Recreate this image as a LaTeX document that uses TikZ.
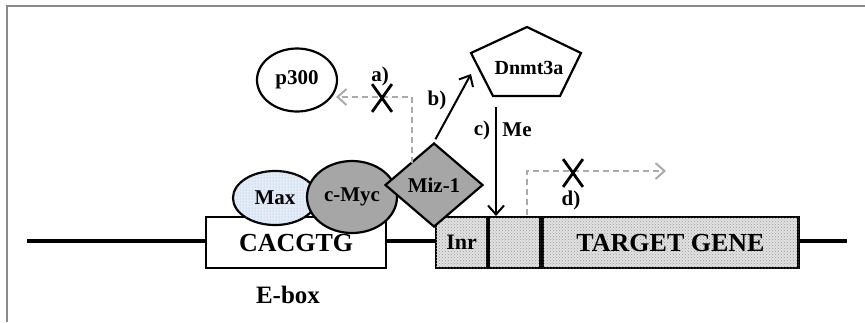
\documentclass[tikz,border=0pt]{standalone}
\usepackage{fontspec}
\setmainfont{Liberation Serif}
\usetikzlibrary{arrows.meta, shapes.geometric, shapes.misc, patterns}
\definecolor{maxblue}{HTML}{E4ECF7}
\definecolor{maxdots}{HTML}{9DB4D6}
\definecolor{protgray}{HTML}{A6A6A6}
\definecolor{genegray}{HTML}{E2E2E2}
\definecolor{genedots}{HTML}{9A9A9A}
\definecolor{blockgray}{HTML}{ABABAB}
\definecolor{framegray}{HTML}{8A8A8A}

\begin{document}
\begin{tikzpicture}[
	x=1pt, y=-1pt,
	>={Straight Barb[length=9pt, width=16pt, line width=2pt]},
	protein/.style={draw=black, line width=2.2pt, inner sep=0pt,
		font=\bfseries\fontsize{21}{23}\selectfont},
	dnabox/.style={draw=black, line width=2.2pt, inner sep=0pt, anchor=north west,
		minimum height=51pt, font=\bfseries\fontsize{26}{28}\selectfont},
	genefill/.style={fill=genegray, postaction={pattern=crosshatch dots, pattern color=genedots}},
	steptag/.style={font=\bfseries\fontsize{21}{23}\selectfont},
	blocked/.style={draw=blockgray, line width=1.8pt, dash pattern=on 6pt off 4pt},
	crossmark/.style={cross out, draw=black, line width=2.8pt,
		minimum width=17pt, minimum height=25pt, inner sep=0pt}
	]
	
	\useasboundingbox (0,0) rectangle (865,322);
	
	% frame edges (top and left only)
	\draw[framegray, line width=1.5pt] (7,322) -- (7,6) -- (865,6);
	
	% ==========================================
	% DNA strand and boxes
	% ==========================================
	\draw[line width=4pt] (27,241) -- (847,241);
	
	\node[dnabox, fill=white, minimum width=180pt] (ebox) at (205,216) {CACGTG};
	\node[font=\bfseries\fontsize{25}{27}\selectfont] (eboxname) at (288,295) {E-box};
	
	\node[dnabox, genefill, minimum width=51pt,
		font=\bfseries\fontsize{22}{24}\selectfont] (inr) at (435,216) {Inr};
	\node[dnabox, genefill, minimum width=51pt] (spacer) at (inr.north east) {};
	\node[dnabox, genefill, minimum width=256pt] (gene) at (spacer.north east) {TARGET GENE};
	
	% ==========================================
	% Protein complex on the E-box
	% ==========================================
	\node[protein, ellipse, fill=maxblue, minimum width=84pt, minimum height=54pt,
		postaction={pattern=dots, pattern color=maxdots}] (max) at (275,198) {};
	\node[font=\bfseries\fontsize{21}{23}\selectfont] (maxname) at (max) {Max};
	\node[protein, ellipse, fill=protgray, minimum width=90pt, minimum height=72pt] (myc) at (352,197) {c-Myc};
	\node[protein, diamond, fill=protgray, minimum width=98pt, minimum height=84pt] (miz) at (434,185) {Miz-1};
	
	% partners above
	\node[protein, ellipse, fill=white, minimum width=80pt, minimum height=63pt] (p300) at (297,80) {p300};
	
	% Dnmt3a (flattened pentagon)
	\draw[line width=2.2pt, fill=white] (527,27) -- (581,53) -- (560,96) -- (493,96) -- (471,53) -- cycle;
	\node[protein, draw=none, font=\bfseries\fontsize{20}{22}\selectfont] (dnmt) at (529,68) {Dnmt3a};
	
	% ==========================================
	% a) blocked recruitment of p300
	% ==========================================
	\coordinate (a-start) at (412,163);
	\coordinate (a-corner) at (412,97);
	\coordinate (a-end) at (336,97);
	\draw[blocked, ->, blockgray] (a-start) -- (a-corner) -- (a-end);
	\node[crossmark] (a-cross) at (382,98) {};
	\node[steptag] (a-tag) at (380,76) {a)};
	
	% ==========================================
	% b) Miz-1 recruits Dnmt3a
	% ==========================================
	\coordinate (b-end) at (471,74);
	\draw[->, line width=2pt, shorten <=3pt] (miz.north) -- (b-end);
	\node[steptag] (b-tag) at (437,100) {b)};
	
	% ==========================================
	% c) methylation of the Inr region
	% ==========================================
	\coordinate (c-start) at (496,107);
	\coordinate (c-end) at (496,216);
	\draw[->, line width=2pt] (c-start) -- (c-end);
	\node[steptag] (c-tag) at (482,130) {c)};
	\node[steptag] (me) at (517,130) {Me};
	
	% ==========================================
	% d) blocked transcription
	% ==========================================
	\coordinate (d-start) at (527,215);
	\coordinate (d-corner) at (527,171);
	\coordinate (d-end) at (666,171);
	\draw[blocked, ->, blockgray] (d-start) -- (d-corner) -- (d-end);
	\node[crossmark] (d-cross) at (573,173) {};
	\node[steptag] (d-tag) at (571,200) {d)};
\end{tikzpicture}
\end{document}
